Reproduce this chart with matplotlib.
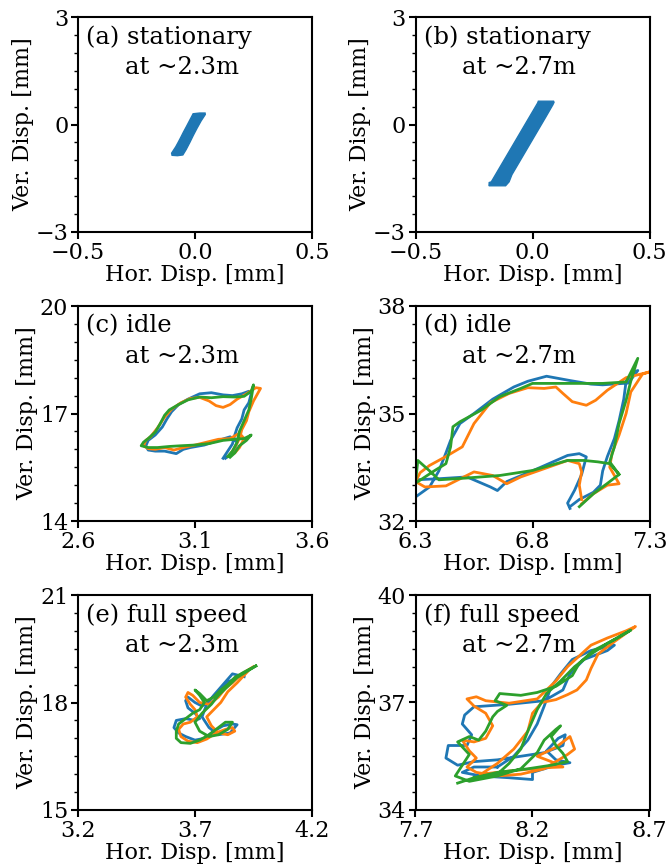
import matplotlib
matplotlib.use("Agg")
import matplotlib.pyplot as plt
from matplotlib.ticker import MultipleLocator

plt.rcParams['font.family'] = ['DejaVu Serif']
plt.rcParams['mathtext.fontset'] = 'dejavuserif'

BLUE, ORANGE, GREEN = '#1f77b4', '#ff7f0e', '#2ca02c'

# ---------------- (a) stationary 2.3 m : outline of the point cloud
a_x = [-0.100, -0.098, -0.075, -0.052, -0.038, -0.022, -0.007, 0.009, 0.026, 0.040, 0.044,
       0.043, 0.020, -0.008, -0.020, -0.036, -0.050, -0.060, -0.072, -0.082, -0.092]
a_y = [-0.80, -0.86, -0.87, -0.85, -0.70, -0.50, -0.30, -0.10, 0.10, 0.24, 0.28,
       0.32, 0.32, 0.30, 0.15, -0.05, -0.22, -0.35, -0.50, -0.62, -0.72]

# ---------------- (b) stationary 2.7 m : outline of the point cloud
b_x = [-0.185, -0.186, -0.115, -0.100, -0.088, -0.052, -0.016, 0.020, 0.056, 0.087, 0.092,
       0.090, 0.025, 0.022, 0.004, -0.032, -0.068, -0.104, -0.140, -0.176]
b_y = [-1.62, -1.71, -1.71, -1.60, -1.40, -1.00, -0.60, -0.20, 0.20, 0.55, 0.62,
       0.65, 0.65, 0.60, 0.40, 0.00, -0.40, -0.80, -1.20, -1.60]

# ---------------- (c) idle 2.3 m
c_blue_x = [3.22, 3.24, 3.26, 3.27, 3.28, 3.30, 3.31, 3.33, 3.34, 3.33, 3.30, 3.26, 3.22, 3.17, 3.12,
            3.07, 3.03, 3.00, 2.98, 2.96, 2.93, 2.90, 2.89, 2.90, 2.93, 2.97, 3.02, 3.05, 3.08, 3.14,
            3.20, 3.25, 3.28, 3.27, 3.25, 3.23]
c_blue_y = [15.75, 15.95, 16.15, 16.40, 16.60, 16.85, 17.10, 17.30, 17.55, 17.62, 17.55, 17.50, 17.52,
            17.58, 17.55, 17.40, 17.25, 17.05, 16.85, 16.62, 16.40, 16.25, 16.10, 15.98, 15.95, 15.95,
            15.88, 16.00, 16.05, 16.12, 16.25, 16.35, 16.20, 16.00, 15.85, 15.75]
c_orange_x = [3.25, 3.27, 3.29, 3.30, 3.32, 3.33, 3.35, 3.38, 3.36, 3.32, 3.28, 3.25, 3.22, 3.19, 3.16,
              3.12, 3.08, 3.04, 3.00, 2.97, 2.94, 2.91, 2.89, 2.88, 2.90, 2.93, 2.97, 3.01, 3.05, 3.10,
              3.15, 3.20, 3.25, 3.29, 3.31, 3.29, 3.27, 3.25]
c_orange_y = [15.85, 16.05, 16.30, 16.55, 16.80, 17.05, 17.35, 17.70, 17.72, 17.55, 17.40, 17.25, 17.17,
              17.22, 17.35, 17.45, 17.42, 17.30, 17.12, 16.90, 16.60, 16.35, 16.25, 16.10, 16.02, 16.00,
              16.05, 15.98, 16.05, 16.12, 16.20, 16.28, 16.30, 16.45, 16.30, 16.05, 15.90, 15.85]
c_green_x = [3.24, 3.26, 3.28, 3.29, 3.31, 3.33, 3.34, 3.35, 3.34, 3.31, 3.27, 3.22, 3.17, 3.12, 3.07,
             3.03, 2.99, 2.97, 2.95, 2.93, 2.90, 2.88, 2.87, 2.90, 2.94, 2.99, 3.04, 3.10, 3.16, 3.22,
             3.27, 3.31, 3.34, 3.32, 3.29, 3.27, 3.25]
c_green_y = [15.80, 15.95, 16.20, 16.50, 16.80, 17.10, 17.40, 17.80, 17.62, 17.48, 17.46, 17.47, 17.44,
             17.46, 17.38, 17.25, 17.10, 16.95, 16.70, 16.48, 16.30, 16.20, 16.10, 16.05, 16.05, 16.08,
             16.10, 16.12, 16.16, 16.25, 16.28, 16.30, 16.40, 16.25, 16.10, 15.90, 15.78]

# ---------------- (d) idle 2.7 m
d_blue_x = [6.96, 7.00, 7.06, 7.09, 7.10, 7.12, 7.15, 7.17, 7.19, 7.20, 7.23, 7.25, 7.21, 7.10, 7.05,
            6.96, 6.86, 6.78, 6.72, 6.63, 6.55, 6.49, 6.45, 6.43, 6.40, 6.36, 6.30, 6.25, 6.30, 6.40,
            6.52, 6.62, 6.65, 6.69, 6.80, 6.95, 7.00, 7.03, 7.01, 6.98, 6.95, 6.96]
d_blue_y = [32.40, 32.60, 32.80, 33.00, 33.40, 33.80, 34.30, 34.80, 35.40, 35.90, 36.15, 36.20, 35.85,
            35.80, 35.82, 35.92, 36.04, 35.90, 35.74, 35.40, 35.00, 34.72, 34.25, 33.90, 33.40, 32.95,
            32.67, 32.55, 33.15, 33.18, 33.23, 32.95, 32.85, 33.10, 33.40, 33.83, 33.88, 33.79, 33.30,
            32.86, 32.50, 32.35]
d_orange_x = [7.01, 7.06, 7.12, 7.17, 7.13, 7.14, 7.17, 7.20, 7.22, 7.27, 7.30, 7.20, 7.12, 7.07, 7.03,
              6.97, 6.93, 6.90, 6.85, 6.78, 6.70, 6.62, 6.55, 6.50, 6.43, 6.36, 6.32, 6.30, 6.34, 6.43,
              6.55, 6.63, 6.69, 6.75, 6.85, 6.95, 7.00, 7.01, 7.00, 7.01]
d_orange_y = [32.48, 32.76, 33.00, 33.04, 33.50, 33.90, 34.40, 35.00, 35.60, 36.10, 36.16, 36.00, 35.65,
              35.37, 35.23, 35.33, 35.56, 35.74, 35.70, 35.72, 35.56, 35.30, 34.72, 34.07, 33.80, 33.55,
              33.35, 33.10, 32.95, 32.98, 33.37, 33.27, 33.04, 33.23, 33.46, 33.69, 33.60, 33.37, 33.00,
              32.60]
d_green_x = [7.00, 7.06, 7.12, 7.17, 7.13, 7.15, 7.17, 7.20, 7.22, 7.25, 7.20, 7.10, 6.95, 6.80, 6.75,
             6.66, 6.58, 6.49, 6.46, 6.45, 6.43, 6.38, 6.32, 6.30, 6.31, 6.36, 6.40, 6.52, 6.66, 6.80,
             6.95, 7.02, 7.08, 7.13, 7.17]
d_green_y = [32.40, 32.76, 33.05, 33.30, 33.65, 34.07, 34.72, 35.37, 35.90, 36.54, 35.88, 35.84, 35.84,
             35.84, 35.70, 35.47, 35.09, 34.77, 34.63, 34.07, 33.60, 33.40, 33.14, 33.06, 33.69, 33.40,
             33.15, 33.20, 33.27, 33.41, 33.69, 33.69, 33.65, 33.60, 33.30]

# ---------------- (e) full speed 2.3 m
e_blue_x = [3.90, 3.85, 3.82, 3.80, 3.76, 3.73, 3.70, 3.67, 3.66, 3.67, 3.70, 3.72, 3.70, 3.66, 3.62,
            3.61, 3.63, 3.66, 3.70, 3.74, 3.78, 3.82, 3.86, 3.88, 3.85, 3.80, 3.76, 3.73, 3.75, 3.78,
            3.82, 3.86, 3.91]
e_blue_y = [18.75, 18.60, 18.45, 18.30, 18.05, 17.90, 18.00, 18.15, 18.05, 17.85, 17.70, 17.55, 17.50,
            17.55, 17.50, 17.30, 17.15, 17.05, 16.95, 17.00, 17.20, 17.35, 17.40, 17.38, 17.15, 17.10,
            17.30, 17.60, 17.95, 18.20, 18.50, 18.80, 18.72]
e_orange_x = [3.95, 3.90, 3.86, 3.83, 3.80, 3.76, 3.72, 3.69, 3.67, 3.66, 3.68, 3.70, 3.71, 3.68, 3.65,
              3.63, 3.64, 3.67, 3.71, 3.75, 3.79, 3.83, 3.86, 3.87, 3.84, 3.80, 3.77, 3.75, 3.78, 3.81,
              3.84, 3.88, 3.93]
e_orange_y = [19.00, 18.80, 18.55, 18.40, 18.15, 17.95, 18.00, 18.20, 18.28, 18.15, 17.95, 17.80, 17.60,
              17.45, 17.40, 17.25, 17.05, 16.92, 16.88, 16.98, 17.15, 17.25, 17.30, 17.20, 17.10, 17.15,
              17.35, 17.60, 17.80, 18.00, 18.30, 18.55, 18.90]
e_green_x = [3.96, 3.91, 3.87, 3.84, 3.81, 3.78, 3.75, 3.72, 3.70, 3.72, 3.74, 3.72, 3.69, 3.66, 3.63,
             3.62, 3.62, 3.64, 3.68, 3.72, 3.76, 3.80, 3.83, 3.86, 3.84, 3.80, 3.76, 3.72, 3.70, 3.73,
             3.77, 3.80, 3.84, 3.88, 3.93, 3.96]
e_green_y = [19.02, 18.85, 18.70, 18.50, 18.35, 18.15, 18.05, 18.25, 18.35, 18.20, 18.00, 17.80, 17.70,
             17.55, 17.40, 17.20, 17.00, 16.88, 16.86, 16.95, 17.10, 17.30, 17.45, 17.45, 17.25, 17.10,
             17.05, 17.20, 17.45, 17.70, 17.95, 18.20, 18.45, 18.70, 18.90, 19.02]

# ---------------- (f) full speed 2.7 m
f_blue_x = [8.05, 8.12, 8.18, 8.22, 8.25, 8.28, 8.32, 8.37, 8.45, 8.55, 8.52, 8.42, 8.36, 8.33, 8.25,
            8.10, 7.95, 7.91, 7.90, 7.94, 7.92, 7.84, 7.83, 7.88, 7.95, 8.05, 8.15, 8.25, 8.33, 8.34,
            8.31, 8.26, 8.30, 8.36, 8.30, 8.20, 8.20, 8.10, 7.98, 7.90, 7.95, 8.05]
f_blue_y = [35.20, 35.50, 35.95, 36.40, 36.90, 37.45, 37.80, 38.20, 38.45, 38.60, 38.45, 38.20, 37.80,
            37.35, 37.05, 36.95, 36.88, 36.65, 36.40, 36.10, 35.80, 35.80, 35.45, 35.25, 35.35, 35.40,
            35.50, 35.60, 35.80, 36.10, 36.00, 35.65, 35.40, 35.32, 35.25, 35.05, 34.85, 34.90, 34.95,
            35.05, 35.20, 35.20]
f_orange_x = [7.98, 8.05, 8.12, 8.18, 8.20, 8.24, 8.30, 8.35, 8.39, 8.43, 8.45, 8.48, 8.55, 8.64, 8.60,
              8.52, 8.45, 8.40, 8.35, 8.30, 8.22, 8.10, 8.00, 7.96, 7.92, 7.95, 8.00, 8.03, 8.00, 7.95,
              7.90, 7.93, 7.96, 7.92, 7.96, 8.05, 8.15, 8.25, 8.30, 8.35, 8.38, 8.36, 8.30, 8.22, 8.28,
              8.33, 8.25, 8.12, 7.98]
f_orange_y = [35.00, 35.30, 35.70, 36.20, 36.70, 37.00, 37.08, 37.22, 37.35, 37.63, 37.95, 38.35, 38.70,
              39.12, 39.00, 38.80, 38.60, 38.30, 38.00, 37.60, 37.10, 36.98, 37.05, 37.16, 37.10, 36.90,
              36.70, 36.35, 36.00, 35.90, 35.95, 35.65, 35.45, 35.20, 35.05, 34.95, 35.00, 35.15, 35.35,
              35.55, 35.70, 36.05, 35.75, 35.50, 35.35, 35.20, 35.18, 35.10, 35.00]
f_green_x = [7.88, 7.95, 8.05, 8.10, 8.15, 8.18, 8.22, 8.26, 8.32, 8.38, 8.45, 8.52, 8.62, 8.55, 8.46,
             8.40, 8.37, 8.30, 8.22, 8.15, 8.06, 8.04, 8.09, 8.05, 8.03, 8.00, 7.97, 7.93, 7.88, 7.93,
             7.90, 7.87, 7.93, 8.05, 8.15, 8.22, 8.25, 8.30, 8.32, 8.28, 8.30, 8.33, 8.35, 8.28, 8.18,
             8.05, 7.95]
f_green_y = [34.75, 34.90, 35.00, 35.30, 35.70, 36.20, 36.80, 37.25, 37.60, 38.00, 38.35, 38.65, 39.02,
             38.75, 38.45, 38.10, 37.75, 37.45, 37.28, 37.20, 37.25, 37.05, 36.92, 36.75, 36.60, 36.20,
             35.95, 36.05, 35.90, 35.55, 35.25, 34.95, 34.80, 34.95, 35.15, 35.60, 35.95, 36.25, 36.35,
             36.05, 35.80, 35.58, 35.35, 35.25, 35.15, 35.05, 34.90]

titles = ["(a) stationary", "(b) stationary", "(c) idle", "(d) idle", "(e) full speed", "(f) full speed"]
subtitles = ["at ~2.3m", "at ~2.7m"] * 3
x_limits = [(-0.5, 0.5), (-0.5, 0.5), (2.6, 3.6), (6.3, 7.3), (3.2, 4.2), (7.7, 8.7)]
y_limits = [(-3, 3), (-3, 3), (14, 20), (32, 38), (15, 21), (34, 40)]
x_ticks = [[-0.5, 0.0, 0.5], [-0.5, 0.0, 0.5], [2.6, 3.1, 3.6], [6.3, 6.8, 7.3], [3.2, 3.7, 4.2], [7.7, 8.2, 8.7]]
x_ticklabels = [["\u22120.5", "0.0", "0.5"], ["\u22120.5", "0.0", "0.5"], ["2.6", "3.1", "3.6"],
                ["6.3", "6.8", "7.3"], ["3.2", "3.7", "4.2"], ["7.7", "8.2", "8.7"]]
y_ticks = [[-3, 0, 3], [-3, 0, 3], [14, 17, 20], [32, 35, 38], [15, 18, 21], [34, 37, 40]]
y_ticklabels = [["\u22123", "0", "3"], ["\u22123", "0", "3"], ["14", "17", "20"],
                ["32", "35", "38"], ["15", "18", "21"], ["34", "37", "40"]]

traces = [
    None, None,
    [(c_blue_x, c_blue_y), (c_orange_x, c_orange_y), (c_green_x, c_green_y)],
    [(d_blue_x, d_blue_y), (d_orange_x, d_orange_y), (d_green_x, d_green_y)],
    [(e_blue_x, e_blue_y), (e_orange_x, e_orange_y), (e_green_x, e_green_y)],
    [(f_blue_x, f_blue_y), (f_orange_x, f_orange_y), (f_green_x, f_green_y)],
]
blobs = [(a_x, a_y), (b_x, b_y), None, None, None, None]

fig = plt.figure(figsize=(6.67, 8.65), dpi=100)
lefts = [78 / 667, 415.5 / 667]
bottoms = [1 - 232 / 865, 1 - 521 / 865, 1 - 810 / 865]
w, h = 234 / 667, 215 / 865

for i in range(6):
    r, c = divmod(i, 2)
    ax = fig.add_axes([lefts[c], bottoms[r], w, h])
    if blobs[i] is not None:
        ax.fill(blobs[i][0], blobs[i][1], color=BLUE, lw=1.0)
    else:
        for (tx, ty), col in zip(traces[i], [BLUE, ORANGE, GREEN]):
            ax.plot(tx, ty, color=col, lw=2.0)
    ax.set_xlim(*x_limits[i])
    ax.set_ylim(*y_limits[i])
    ax.set_xticks(x_ticks[i])
    ax.set_xticklabels(x_ticklabels[i])
    ax.set_yticks(y_ticks[i])
    ax.set_yticklabels(y_ticklabels[i])
    ax.yaxis.set_minor_locator(MultipleLocator(0.5))
    for s in ax.spines.values():
        s.set_linewidth(1.5)
    ax.tick_params(which='major', direction='out', length=5, width=1.5, labelsize=16, pad=2)
    ax.tick_params(which='minor', direction='out', length=3, width=1.0)
    ax.set_xlabel("Hor. Disp. [mm]", fontsize=16, labelpad=0)
    ax.set_ylabel("Ver. Disp. [mm]", fontsize=16, labelpad=1)
    ax.text(0.035, 0.96, titles[i], transform=ax.transAxes, fontsize=17.5, va='top', ha='left')
    ax.text(0.20, 0.82, subtitles[i], transform=ax.transAxes, fontsize=17.5, va='top', ha='left')

fig.savefig("out.png", dpi=100)
